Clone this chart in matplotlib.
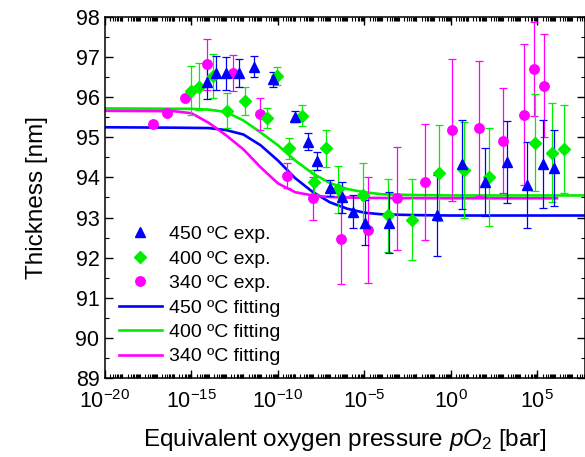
import numpy as np
import matplotlib
matplotlib.use("Agg")
import matplotlib.pyplot as plt
from matplotlib.ticker import FixedLocator, LogLocator, MultipleLocator, NullFormatter
from matplotlib.lines import Line2D

plt.rcParams['font.family'] = ['Liberation Sans', 'DejaVu Sans']
plt.rcParams['mathtext.fontset'] = 'custom'
plt.rcParams['mathtext.rm'] = 'Liberation Sans'
plt.rcParams['mathtext.it'] = 'Liberation Sans:italic'
plt.rcParams['mathtext.bf'] = 'Liberation Sans:bold'

# 实验点: log10(pO2), 厚度 (nm), 误差
logp_450 = [-14.12, -13.58, -13.01, -12.24, -11.39, -10.27, -9.02, -8.28, -7.73, -7.00,
            -6.32, -5.65, -4.97, -3.57, -0.83, 0.62, 1.97, 3.25, 4.38, 5.34, 5.94]
thk_450 = [96.39, 96.60, 96.60, 96.60, 96.76, 96.45, 95.51, 94.89, 94.41, 93.73,
           93.50, 93.14, 92.87, 92.87, 93.06, 94.33, 93.89, 94.38, 93.81, 94.33, 94.23]
err_450 = [0.43, 0.43, 0.41, 0.35, 0.26, 0.19, 0.14, 0.21, 0.22, 0.20,
           0.39, 0.41, 0.56, 0.76, 1.01, 1.11, 0.85, 1.03, 1.08, 1.09, 0.95]

logp_400 = [-15.05, -14.55, -13.77, -12.97, -11.91, -10.65, -10.04, -9.35, -8.63, -7.90,
            -7.23, -6.51, -5.07, -3.62, -2.25, -0.69, 0.75, 2.20, 4.86, 5.84, 6.52]
thk_400 = [96.16, 96.26, 96.53, 95.66, 95.91, 95.47, 96.53, 94.73, 95.54, 93.89,
           94.73, 93.70, 93.55, 93.06, 92.95, 94.11, 94.18, 94.02, 94.87, 94.62, 94.71]
err_400 = [0.61, 0.58, 0.55, 0.44, 0.35, 0.25, 0.22, 0.26, 0.27, 0.30,
           0.46, 0.59, 0.81, 0.91, 1.02, 1.20, 1.20, 1.22, 1.20, 1.24, 1.10]

logp_340 = [-17.24, -16.43, -15.36, -14.12, -12.58, -11.04, -9.50, -8.00, -6.38, -4.78,
            -3.14, -1.50, 0.08, 1.64, 2.99, 4.24, 4.79, 5.40]
thk_340 = [95.33, 95.60, 95.99, 96.82, 96.61, 95.58, 94.04, 93.48, 92.46, 92.69,
           93.48, 93.89, 95.19, 95.22, 94.92, 95.56, 96.70, 96.29]
err_340 = [0.0, 0.0, 0.0, 0.63, 0.45, 0.39, 0.31, 0.53, 1.11, 1.32,
           1.29, 1.44, 1.77, 1.68, 1.32, 1.76, 1.18, 1.28]

# 拟合曲线
fit_logp_450 = [-20, -16, -14, -13, -12, -11, -10, -9, -8, -7, -6, -5, -4, -2, 0, 7.75]
fit_thk_450 = [95.25, 95.24, 95.23, 95.18, 95.07, 94.80, 94.42, 93.98, 93.64, 93.38,
               93.22, 93.12, 93.08, 93.06, 93.05, 93.05]

fit_logp_400 = [-20, -15, -14, -13, -12, -11, -10, -9, -8, -7, -6, -5, -4, -2, 0, 7.75]
fit_thk_400 = [95.72, 95.71, 95.69, 95.63, 95.42, 95.12, 94.80, 94.42, 94.10, 93.86,
               93.71, 93.63, 93.58, 93.56, 93.55, 93.55]

fit_logp_340 = [-20, -16, -15, -14, -13, -12, -11, -10, -9, -8, -7, -5, 0, 6.13]
fit_thk_340 = [95.66, 95.65, 95.60, 95.36, 95.05, 94.70, 94.25, 93.85, 93.63, 93.55,
               93.51, 93.49, 93.48, 93.48]

c_blue = '#0000ff'
c_green = '#00ee00'
c_mag = '#ff00ff'

fig = plt.figure(figsize=(5.85, 4.57), dpi=100)
ax = fig.add_axes([0.1795, 0.1729, 0.8205, 0.790])

ax.plot(10.0 ** np.array(fit_logp_450), fit_thk_450, color=c_blue, lw=1.9, zorder=2)
ax.plot(10.0 ** np.array(fit_logp_400), fit_thk_400, color=c_green, lw=1.9, zorder=2)
ax.plot(10.0 ** np.array(fit_logp_340), fit_thk_340, color=c_mag, lw=1.9, zorder=2)

ax.errorbar(10.0 ** np.array(logp_340), thk_340, yerr=err_340, fmt='o', ms=6.8,
            color=c_mag, ecolor=c_mag, elinewidth=0.9, capsize=3, capthick=0.9, zorder=3)
ax.errorbar(10.0 ** np.array(logp_400), thk_400, yerr=err_400, fmt='D', ms=6,
            color=c_green, ecolor=c_green, elinewidth=0.9, capsize=3, capthick=0.9, zorder=3)
ax.errorbar(10.0 ** np.array(logp_450), thk_450, yerr=err_450, fmt='^', ms=7.5,
            color=c_blue, ecolor=c_blue, elinewidth=0.9, capsize=3, capthick=0.9, zorder=3)

ax.set_xscale('log')
ax.set_xlim(1e-20, 10 ** 7.75)
ax.set_ylim(89, 98)

ax.xaxis.set_major_locator(FixedLocator(10.0 ** np.arange(-20, 10, 5)))
ax.xaxis.set_minor_locator(LogLocator(base=10, subs=np.arange(1, 10), numticks=60))
ax.xaxis.set_minor_formatter(NullFormatter())
ax.yaxis.set_major_locator(MultipleLocator(1))
ax.yaxis.set_minor_locator(MultipleLocator(0.5))

ax.tick_params(which='both', direction='in', top=True, right=True, labelsize=15.5)
ax.tick_params(axis='x', which='major', length=6, width=1, pad=9)
ax.tick_params(axis='y', which='major', length=6, width=1, pad=4)
ax.tick_params(which='minor', length=3, width=0.8)
for s in ax.spines.values():
    s.set_linewidth(1.1)

ax.set_xlabel(r'Equivalent oxygen pressure $\mathit{pO}_{\mathrm{2}}$ [bar]', fontsize=17.5, labelpad=10)
ax.set_ylabel('Thickness [nm]', fontsize=17.5, labelpad=20)

handles = [
    Line2D([], [], ls='none', marker='^', ms=7.5, color=c_blue),
    Line2D([], [], ls='none', marker='D', ms=6, color=c_green),
    Line2D([], [], ls='none', marker='o', ms=6.8, color=c_mag),
    Line2D([], [], color=c_blue, lw=1.9),
    Line2D([], [], color=c_green, lw=1.9),
    Line2D([], [], color=c_mag, lw=1.9),
]
labels = ['450 ºC exp.', '400 ºC exp.', '340 ºC exp.',
          '450 ºC fitting', '400 ºC fitting', '340 ºC fitting']
ax.legend(handles, labels, loc='lower left', bbox_to_anchor=(0.029, 0.035), frameon=False,
          fontsize=14, handlelength=2.2, handletextpad=0.36, labelspacing=0.35,
          borderpad=0, borderaxespad=0)

fig.savefig('out.png', dpi=100)
